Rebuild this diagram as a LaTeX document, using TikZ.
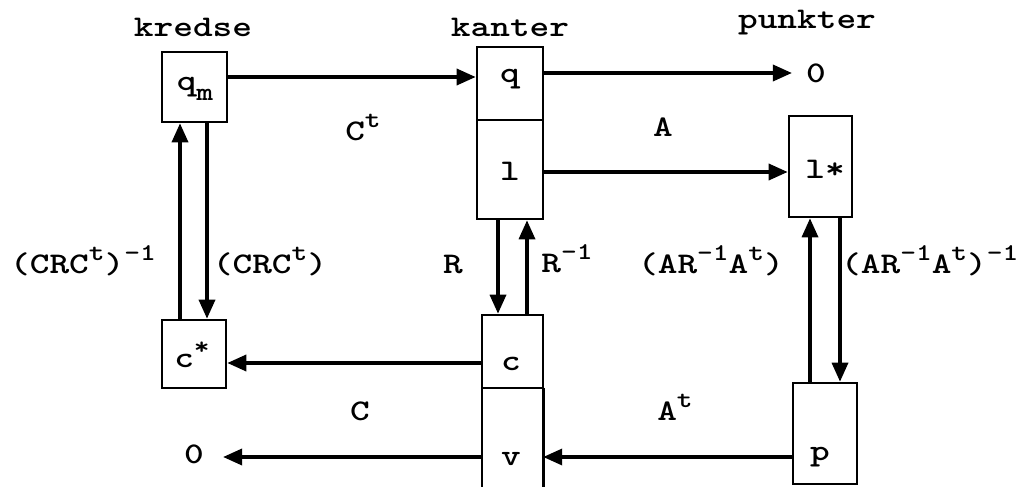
\documentclass[tikz,border=0pt]{standalone}
\usepackage{fontspec}
\usepackage{graphicx}
\newfontfamily\tw{lmmonolt10-bold.otf}
\usetikzlibrary{arrows.meta}
\newcommand{\mywide}[1]{\scalebox{1.25}[1]{#1}}
\newcommand{\myup}[1]{\raisebox{0.42em}{\scalebox{0.8}{#1}}}
\newcommand{\mydn}[1]{\raisebox{-0.36em}{\scalebox{0.85}{#1}}}
\tikzset{
  bx/.style={draw, line width=2.6pt, inner sep=0pt},
  bxside/.style={line width=2.6pt},
  arr/.style={line width=3.4pt, -{Triangle[length=19pt,width=16pt]}},
  txt/.style={font=\tw\fontsize{30}{34}\selectfont, inner sep=0pt, anchor=base},
}
\begin{document}
\begin{tikzpicture}[x=1pt,y=-1pt]
\path[use as bounding box, fill=white] (0,0) rectangle (1036,487);
% boxes
\node[bx, minimum width=65pt, minimum height=70pt] (qm) at (194.5,87) {};
\node[bx, minimum width=64pt, minimum height=68pt] (cs) at (194,354) {};
\node[bx, minimum width=66pt, minimum height=73pt] (q) at (510,83.5) {};
\node[bx, minimum width=66pt, minimum height=99pt] (l) at (510,169.5) {};
\node[bx, minimum width=61pt, minimum height=73pt] (c) at (512.5,351.5) {};
\node[inner sep=0pt, minimum width=61pt, minimum height=112pt] (v) at (512.5,444) {};
\draw[bxside] (v.north west) -- (v.south west) (v.north east) -- (v.south east);
\node[bx, minimum width=63pt, minimum height=101pt] (ls) at (820.5,166.5) {};
\node[bx, minimum width=64pt, minimum height=101pt] (p) at (825,433.5) {};
% texts
\node[txt] (kr) at (193,37) {\mywide{kredse}};
\node[txt] (ka) at (510,37) {\mywide{kanter}};
\node[txt] (pu) at (807,29) {\mywide{punkter}};
\node[txt] (qmt) at (195,90) {\mywide{q\mydn{m}}};
\node[txt] (qt) at (510,82) {\mywide{q}};
\node[txt] (lt) at (510,180) {\mywide{l}};
\node[txt] (lst) at (825,178) {\mywide{l*}};
\node[txt] (cst) at (192,367) {\mywide{c\myup{*}}};
\node[txt] (ct) at (511,370) {\mywide{c}};
\node[txt] (vt) at (511,465) {\mywide{v}};
\node[txt] (pt) at (820,460) {\mywide{p}};
\node[txt] (z1) at (816,82) {\mywide{0}};
\node[txt] (z2) at (194,463) {\mywide{0}};
% labels
\node[txt] (lCt) at (363,140) {\mywide{C\myup{t}}};
\node[txt] (lA) at (663,136) {\mywide{A}};
\node[txt] (lCRCi) at (83,273) {\mywide{(CRC\myup{t})\myup{-1}}};
\node[txt] (lCRC) at (270,273) {\mywide{(CRC\myup{t})}};
\node[txt] (lR) at (453,273) {\mywide{R}};
\node[txt] (lRi) at (567,272) {\mywide{R\myup{-1}}};
\node[txt] (lARA) at (711,273) {\mywide{(AR\myup{-1}A\myup{t})}};
\node[txt, anchor=base west] (lARAi) at (841,273) {\mywide{(AR\myup{-1}A\myup{t})\myup{-1}}};
\node[txt] (lC) at (360,420) {\mywide{C}};
\node[txt] (lAt) at (675,420) {\mywide{A\myup{t}}};
% connectors
\draw[arr] (qm.east |- 0,77) -- (q.west |- 0,77);
\draw[arr, shorten >=14pt] (q.east |- 0,73) -- (z1.west |- 0,73);
\draw[arr] (l.east |- 0,172) -- (ls.west |- 0,172);
\draw[arr] (cs.north -| 180,0) -- (qm.south -| 180,0);
\draw[arr] (qm.south -| 207,0) -- (cs.north -| 207,0);
\draw[arr] (l.south -| 498,0) -- (c.north -| 498,0);
\draw[arr] (c.north -| 527,0) -- (l.south -| 527,0);
\draw[arr] (p.north -| 810,0) -- (ls.south -| 810,0);
\draw[arr] (ls.south -| 840,0) -- (p.north -| 840,0);
\draw[arr] (c.west |- 0,363) -- (cs.east |- 0,363);
\draw[arr] (p.west |- 0,457) -- (v.east |- 0,457);
\draw[arr, shorten >=19pt] (v.west |- 0,457) -- (z2.east |- 0,457);
\end{tikzpicture}
\end{document}
